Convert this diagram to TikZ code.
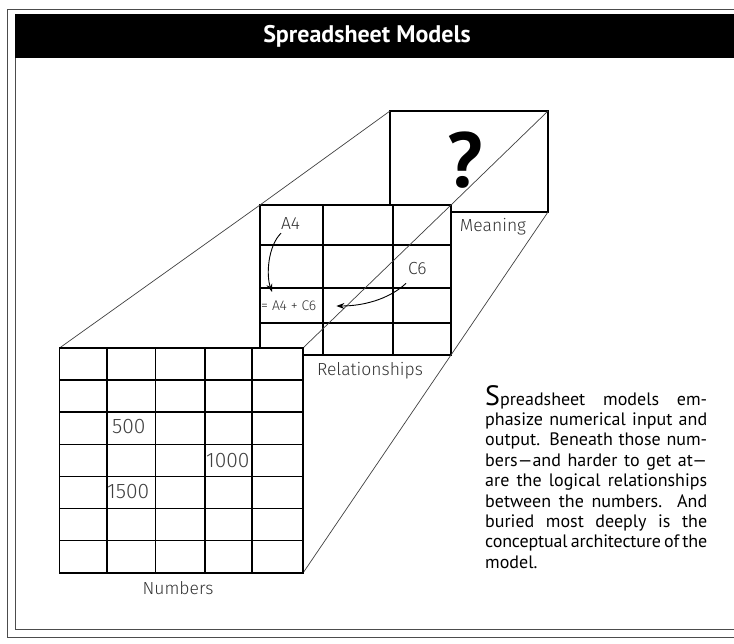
\documentclass[tikz,border=0pt]{standalone}
\usepackage{fontspec}
\setmainfont{PT Sans}
\newfontfamily\handfont{Fira Sans Light}
\usetikzlibrary{arrows.meta}
\begin{document}
\begin{tikzpicture}[x=1pt,y=-1pt,
  gridbox/.style={line width=1.6pt, draw=black, fill=white},
  gridline/.style={line width=1.6pt, black},
  persp/.style={line width=0.7pt, black!75},
  framerule/.style={line width=0.8pt, black!70},
  hand/.style={font=\handfont\fontsize{17.5}{17.5}\selectfont, text=black!80, inner sep=0pt},
  celltext/.style={font=\handfont\fontsize{21}{21}\selectfont, text=black!75, inner sep=0pt, anchor=west},
  small/.style={font=\handfont\fontsize{14}{14}\selectfont, text=black!80, inner sep=0pt, anchor=west},
  pointer/.style={line width=0.9pt, -{Stealth[length=8pt,width=6pt]}},
  titletext/.style={font=\bfseries\fontsize{24}{24}\selectfont, text=white, inner sep=0pt}]

\useasboundingbox (0,0) rectangle (734,644);

% frame
\draw[framerule] (734,9) -- (7,9) -- (7,637) -- (734,637);
\draw[framerule] (15,58) -- (15,629) -- (734,629);
\fill[black] (15,14) rectangle (734,58);
\node[titletext] (title) at (367,36) {Spreadsheet Models};

% corners
\coordinate (mTL) at (390,111);
\coordinate (mTR) at (548,111);
\coordinate (mBR) at (548,212);
\coordinate (rTL) at (260,205);
\coordinate (rTR) at (451,205);
\coordinate (rBR) at (451,355);
\coordinate (nTL) at (59.5,348);
\coordinate (nTR) at (303,348);
\coordinate (nBR) at (303,573);

% meaning box
\draw[gridbox] (mTL) rectangle (mBR);
\node[font=\bfseries\fontsize{78}{78}\selectfont, inner sep=0pt] (qmark) at (465,160) {?};

% relationships grid
\draw[gridbox] (rTL) rectangle (rBR);
\foreach \x in {322.7,392.7} \draw[gridline] (\x,205) -- (\x,355);
\foreach \y in {245,288,323} \draw[gridline] (260,\y) -- (451,\y);

% perspective lines
\draw[persp] (nTL) -- (rTL) -- (mTL);
\draw[persp] (nTR) -- (rTR) -- (mTR);
\draw[persp] (nBR) -- (rBR) -- (mBR);

% numbers grid
\draw[gridbox] (nTL) rectangle (nBR);
\foreach \x in {106.7,155.3,205,251.7} \draw[gridline] (\x,348) -- (\x,573);
\foreach \k in {1,...,6} \draw[gridline] (59.5,348+32.1*\k) -- (303,348+32.1*\k);

% cell texts
\node[celltext] (n500) at (112,427) {500};
\node[celltext] (n1000) at (206,461) {1000};
\node[celltext] (n1500) at (107,492) {1500};

% relationships texts
\node[hand, anchor=west] (a4) at (281,224) {A4};
\node[hand, anchor=west] (c6) at (408,269) {C6};
\node[small] (formula) at (261,306) {= A4 + C6};
\draw[pointer] ([shift={(0,3)}]a4.south west) .. controls (268,246) and (266,275) .. ([shift={(11,-9)}]formula.north west);
\draw[pointer] ([shift={(-2,8)}]c6.south west) .. controls (388,300) and (362,306) .. ([xshift=20]formula.east);

% labels
\node[hand] (meaning) at (493,227) {Meaning};
\node[hand] (relationships) at (370,371) {Relationships};
\node[hand] (numbers) at (178,588) {Numbers};

% paragraph
\node[anchor=north west, inner sep=0pt, text width=222pt, align=justify,
      font=\fontsize{18}{20.4}\selectfont] (para) at (485,385)
{{\fontsize{28}{20.4}\selectfont S}preadsheet models em-\linebreak
phasize numerical input and\linebreak
output. Beneath those num-\linebreak
bers—and harder to get at—\linebreak
are the logical relationships\linebreak
between the numbers. And\linebreak
buried most deeply is the\linebreak
{\addfontfeature{LetterSpace=-0.8}conceptual\hspace{0.5pt plus 8pt}architecture\hspace{0.5pt plus 8pt}of\hspace{0.5pt plus 8pt}the}\linebreak
model.};
\end{tikzpicture}
\end{document}
